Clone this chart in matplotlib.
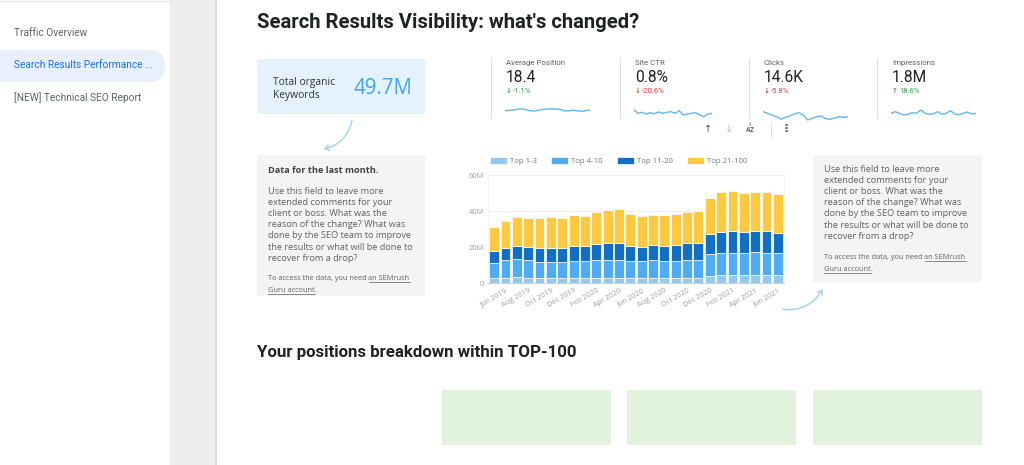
import matplotlib
matplotlib.use("Agg")
import matplotlib.pyplot as plt
from matplotlib.patches import FancyBboxPatch, Rectangle, FancyArrowPatch

W, H = 1024, 465

# ---- data ----
MONTHS = ["May 2019", "Jun 2019", "Jul 2019", "Aug 2019", "Sep 2019", "Oct 2019",
          "Nov 2019", "Dec 2019", "Jan 2020", "Feb 2020", "Mar 2020", "Apr 2020",
          "May 2020", "Jun 2020", "Jul 2020", "Aug 2020", "Sep 2020", "Oct 2020",
          "Nov 2020", "Dec 2020", "Jan 2021", "Feb 2021", "Mar 2021", "Apr 2021",
          "May 2021", "Jun 2021"]
# millions of keywords
TOP_1_3 = [2.6, 3.0, 3.5, 3.0, 2.8, 2.8, 2.8, 2.8, 2.8, 3.0, 3.0, 3.0, 3.0,
           3.0, 3.0, 3.0, 3.0, 3.0, 3.0, 4.1, 4.4, 4.4, 4.4, 4.6, 4.4, 4.4]
TOP_4_10 = [8.5, 9.6, 10.0, 9.8, 9.1, 8.9, 8.9, 9.4, 9.4, 9.6, 10.0, 9.6, 9.4,
            9.4, 9.6, 9.2, 9.4, 10.0, 10.0, 12.0, 12.5, 12.5, 12.5, 12.6, 12.5, 12.1]
TOP_11_20 = [6.5, 6.7, 7.2, 7.4, 7.7, 7.9, 7.6, 8.4, 8.4, 9.1, 9.0, 9.4, 8.2,
             7.8, 8.3, 8.4, 8.5, 9.0, 9.0, 11.1, 11.6, 11.8, 11.6, 11.9, 11.8, 11.5]
TOP_21_100 = [13.5, 15.0, 16.2, 15.9, 16.5, 16.9, 16.8, 17.0, 16.6, 17.7, 18.6, 19.1, 17.9,
              17.0, 17.1, 17.0, 17.6, 17.4, 18.0, 20.0, 21.9, 22.4, 21.5, 21.6, 21.7, 21.7]
SERIES = ["Top 1-3", "Top 4-10", "Top 11-20", "Top 21-100"]
COLORS = ["#92c9f3", "#4dacf5", "#1170c6", "#ffc93f"]

CARD_NAMES = ["Average Position", "Site CTR", "Clicks", "Impressions"]
CARD_VALUES = ["18.4", "0.8%", "14.6K", "1.8M"]
CARD_DELTAS = ["-1.1%", "-20.6%", "-5.8%", "18.6%"]
CARD_UP = [False, False, False, True]
CARD_GOOD = [True, False, False, True]

SPARK_AP = [11.3, 11.7, 12.0, 12.7, 13.3, 12.3, 11.3, 11.0, 12.0, 12.7, 13.0,
            13.3, 13.0, 12.7, 11.0, 11.3, 11.7, 11.3, 10.7, 11.3, 12.0]
SPARK_CTR = [12.0, 8.7, 9.7, 8.0, 9.3, 8.3, 10.0, 8.7, 9.7, 10.3, 8.7, 11.3,
             7.0, 8.0, 8.7, 9.3, 7.0, 5.3, 8.0, 8.7]
SPARK_CLICKS = [10.3, 8.7, 7.0, 5.3, 2.7, 4.7, 6.0, 8.0, 9.3, 7.0, 2.0, 3.7,
                5.3, 6.0, 3.3, 2.7, 4.0, 5.3, 4.7, 5.3]
SPARK_IMPR = [8.7, 10.3, 8.7, 7.0, 7.7, 9.3, 8.7, 12.0, 8.7, 7.7, 8.3, 10.3,
              7.7, 8.7, 11.3, 8.0, 7.3, 8.7, 10.0, 8.0, 8.7]
SPARKS = [SPARK_AP, SPARK_CTR, SPARK_CLICKS, SPARK_IMPR]

NAV_ITEMS = ["Traffic Overview", "Search Results Performance ...", "[NEW] Technical SEO Report"]

COMMENT = ("Use this field to leave more\nextended comments for your\n"
           "client or boss. What was the\nreason of the change? What was\n"
           "done by the SEO team to improve\nthe results or what will be done to\n"
           "recover from a drop?")

UI = ["Roboto", "DejaVu Sans"]
BODY = ["Open Sans", "DejaVu Sans"]


def px_axes(fig, x0, y0, x1, y1):
    return fig.add_axes([x0 / W, 1 - y1 / H, (x1 - x0) / W, (y1 - y0) / H])


fig = plt.figure(figsize=(W / 100, H / 100), dpi=100)
bg = fig.add_axes([0, 0, 1, 1])
bg.set_xlim(0, W)
bg.set_ylim(H, 0)
bg.axis("off")

# page frame
bg.add_patch(Rectangle((170, 0), 46, H, color="#eeeeee", lw=0))
bg.add_patch(Rectangle((215, 0), 2, H, color="#dcdcdc", lw=0))
bg.plot([0, 170], [1, 1], color="#e6e6e6", lw=1)

# sidebar
bg.add_patch(FancyBboxPatch((-20, 50), 185, 32, boxstyle="round,pad=0,rounding_size=16",
                            color="#e8f0fe", lw=0))
for i, item in enumerate(NAV_ITEMS):
    bg.text(14, 33 + i * 32.5, item, fontsize=7.3, family=UI, va="center",
            color="#1a73e8" if i == 1 else "#5f6368")

# titles
bg.text(257, 22, "Search Results Visibility: what's changed?", fontsize=14.6,
        weight="bold", family=UI, va="center", color="#202124")
bg.text(257, 352, "Your positions breakdown within TOP-100", fontsize=12.2,
        weight="bold", family=UI, va="center", color="#202124")

# total keywords card
bg.add_patch(FancyBboxPatch((257, 59), 168, 55, boxstyle="round,pad=0,rounding_size=2",
                            color="#e3f2fd", lw=0))
bg.text(273, 89, "Total organic\nKeywords", fontsize=7.4, family=BODY, va="center",
        color="#333333", linespacing=1.2)
total = TOP_1_3[-1] + TOP_4_10[-1] + TOP_11_20[-1] + TOP_21_100[-1]
bg.text(412, 88, f"{total:.1f}M", fontsize=14.8, family=BODY, va="center", ha="right",
        color="#42a5f5")

# curved arrows
bg.add_patch(FancyArrowPatch((352.5, 118), (321, 149.5), connectionstyle="arc3,rad=-0.35",
                             arrowstyle="->,head_length=3,head_width=2", color="#9fd0f7", lw=1))
bg.add_patch(FancyArrowPatch((780, 309), (824, 287), connectionstyle="arc3,rad=0.35",
                             arrowstyle="->,head_length=3,head_width=2", color="#9fd0f7", lw=1))


def comment_box(x0, y0, x1, y1, heading, text_y, small_y):
    bg.add_patch(FancyBboxPatch((x0, y0), x1 - x0, y1 - y0,
                                boxstyle="round,pad=0,rounding_size=2", color="#f4f4f4", lw=0))
    tx = x0 + 11
    if heading:
        bg.text(tx, y0 + 15, heading, fontsize=6.6, weight="bold", family=BODY,
                va="center", color="#424242")
    bg.text(tx, text_y, COMMENT, fontsize=6.6, family=BODY, va="top",
            color="#616161", linespacing=1.3)
    pre = bg.text(tx, small_y, "To access the data, you need ", fontsize=5.3, family=BODY,
                  va="baseline", color="#616161")
    fig.canvas.draw()
    bb = pre.get_window_extent().transformed(bg.transData.inverted())
    link = bg.text(bb.x1, small_y, "an SEMrush", fontsize=5.3, family=BODY,
                   va="baseline", color="#616161")
    link2 = bg.text(tx, small_y + 12, "Guru account", fontsize=5.3, family=BODY,
                    va="baseline", color="#616161")
    fig.canvas.draw()
    b2 = link2.get_window_extent().transformed(bg.transData.inverted())
    bg.text(b2.x1, small_y + 12, ".", fontsize=5.3, family=BODY, va="baseline", color="#616161")
    for t, yb in ((link, small_y), (link2, small_y + 12)):
        b = t.get_window_extent().transformed(bg.transData.inverted())
        bg.plot([b.x0, b.x1], [yb + 2, yb + 2], color="#757575", lw=0.6)


comment_box(257, 155, 425, 296, "Data for the last month.", 187, 280)
comment_box(813, 155, 982, 282, None, 165, 259)

# scorecards
card_x = [506, 635, 764, 892]
for i, name in enumerate(CARD_NAMES):
    x = card_x[i]
    bg.plot([x - 15.5, x - 15.5], [58, 118], color="#e0e0e0", lw=0.8)
    bg.text(x, 63, name, fontsize=5.7, family=UI, va="center", color="#5f6368")
    bg.text(x, 78, CARD_VALUES[i], fontsize=11.2, family=UI, va="center", color="#202124")
    col = "#34a853" if CARD_GOOD[i] else "#ea4335"
    arrow = "\u2191" if CARD_UP[i] else "\u2193"
    bg.text(x, 91, arrow, fontsize=5, family=UI, weight="bold", va="center", color=col)
    bg.text(x + 7, 91, CARD_DELTAS[i], fontsize=5.6, family=UI, va="center", color=col)
    sax = px_axes(fig, x - 1, 100, x + 84 if i != 1 else x + 77, 122)
    sax.plot(range(len(SPARKS[i])), SPARKS[i], color="#64b5f6", lw=1)
    sax.set_ylim(0, 22)
    sax.set_xlim(0, len(SPARKS[i]) - 1)
    sax.axis("off")

# chart toolbar
bg.text(708, 129, "\u2191", fontsize=7, family=UI, ha="center", va="center", color="#555555")
bg.text(729, 129, "\u2193", fontsize=7, family=UI, ha="center", va="center", color="#bbbbbb")
bg.text(750, 130, "AZ", fontsize=5, family=UI, weight="bold", ha="center", va="center",
        color="#666666")
bg.text(750, 124.5, "\u2195", fontsize=3.5, family=UI, ha="center", va="center", color="#666666")
bg.plot([771, 771], [122, 137], color="#e0e0e0", lw=0.8)
bg.text(786, 129, "\u22ee", fontsize=8, family=["DejaVu Sans"], weight="bold", ha="center",
        va="center", color="#555555")

# stacked bar chart
ax = px_axes(fig, 488, 175, 784, 283)
xs = list(range(len(MONTHS)))
bottom = [0.0] * len(MONTHS)
for label, vals, color in zip(SERIES, [TOP_1_3, TOP_4_10, TOP_11_20, TOP_21_100], COLORS):
    ax.bar(xs, vals, bottom=bottom, width=0.86, color=color, edgecolor="white",
           linewidth=0.5, label=label, zorder=3)
    bottom = [b + v for b, v in zip(bottom, vals)]
ax.set_xlim(-0.55, len(MONTHS) - 0.45)
ax.set_ylim(0, 60)
ax.set_yticks([0, 20, 40, 60])
ax.set_yticklabels(["0", "20M", "40M", "60M"])
ax.set_xticks(xs[1::2])
ax.set_xticklabels(MONTHS[1::2], rotation=30, ha="right", rotation_mode="anchor")
ax.tick_params(length=0, labelsize=5.3, colors="#9e9e9e", pad=3)
for lab in ax.get_xticklabels() + ax.get_yticklabels():
    lab.set_family(BODY)
ax.grid(axis="y", color="#f0f0f0", lw=0.8, zorder=0)
for side in ("top", "right", "left"):
    ax.spines[side].set_color("#f2f2f2")
    ax.spines[side].set_linewidth(0.6)
ax.spines["bottom"].set_color("#cfcfcf")
leg = ax.legend(loc="lower left", bbox_to_anchor=(-0.005, 1.06), ncol=4, frameon=False,
                handlelength=2.2, handleheight=1.0, columnspacing=1.8,
                handletextpad=0.4, borderaxespad=0, prop={"family": BODY, "size": 5.6})
for t in leg.get_texts():
    t.set_color("#757575")

# positions breakdown placeholders
for x0 in (442, 627, 813):
    bg.add_patch(Rectangle((x0, 390), 169, 55, color="#e2f3dc", lw=0))

fig.savefig("out.png", dpi=100)
